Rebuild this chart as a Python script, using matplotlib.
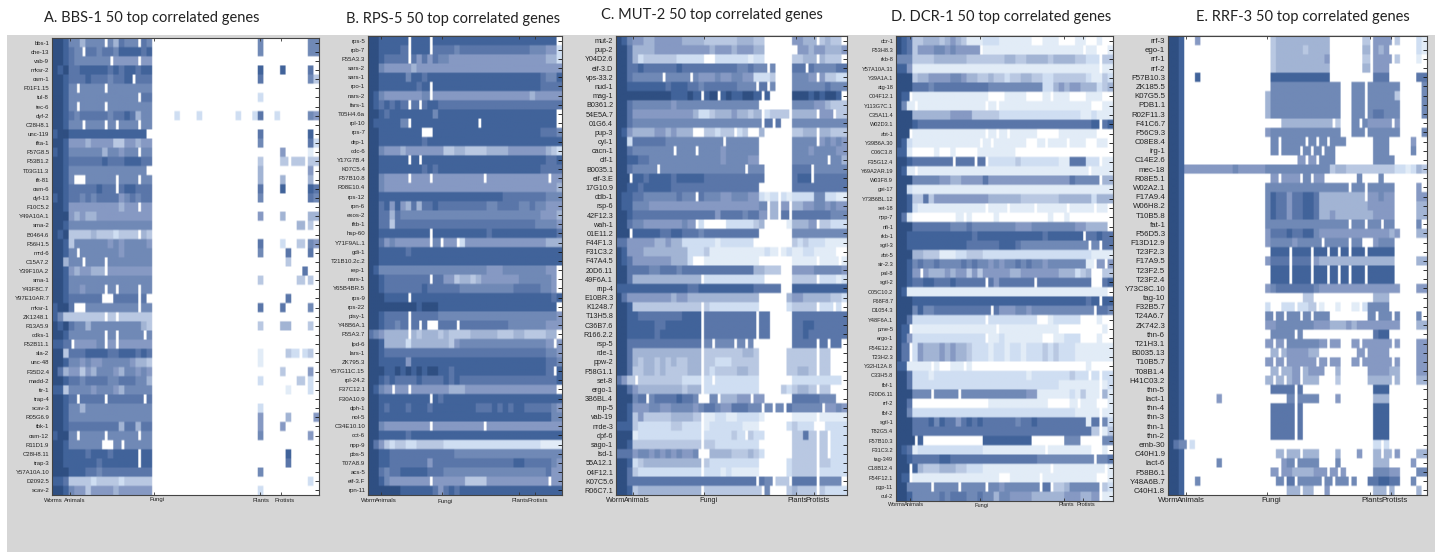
import numpy as np
import matplotlib
matplotlib.use('Agg')
import matplotlib.pyplot as plt
from matplotlib.colors import ListedColormap
from matplotlib.patches import Rectangle

# values are read by eye: each digit is one column of a row, 0 = absent, 9 = strongest
# '|' splits a row in sections so the columns stay lined up
bbs1_genes = ['bbs-1', 'che-13', 'vab-9', 'mksr-2', 'osm-1', 'F01F1.15', 'tul-8', 'tec-6', 'dyf-2', 'C28H8.1',
              'unc-119', 'ifta-1', 'F57G8.5', 'F53B1.2', 'T03G11.3', 'ift-81', 'osm-6', 'dyf-13', 'F10C5.2', 'Y49A10A.1',
              'sma-2', 'B0464.6', 'F56H1.5', 'mrd-6', 'C15A7.2', 'Y39F10A.2', 'sma-1', 'Y43F8C.7', 'Y97E10AR.7', 'mksr-1',
              'ZK1248.1', 'R13A5.9', 'cdks-1', 'F52B11.1', 'sla-2', 'unc-48', 'F35D2.4', 'madd-2', 'itr-1', 'trap-4',
              'scav-3', 'R05G6.9', 'tbk-1', 'osm-12', 'R11D1.9', 'C28H8.11', 'trap-3', 'Y57A10A.10', 'D2092.5', 'scav-2']
bbs1_rows = [
    '998664666064766076||60000000066', '998760776776888878||60000000066', '998766666605555055||',
    '989778888878788788||80008000070', '998777877767780777||70000000063', '998606666066666666||',
    '998666666666666077||20000000000', '998606666066666666||', '998767777767787466|0000200020000002002|70020000065',
    '998660666060666066||', '899888888888888880||70000000080', '998555455553355455||60000000072',
    '898666666466566066||00005000010', '998777777877788877||30003033033', '998666666666666660||40000000050',
    '998600666660666066||40004000040', '998777778770788777||70008000087', '898776767777567677||60000000076',
    '998555555555455055||', '999545445555555555||50004000044', '998666666666666666||00000004030',
    '989333343332333043||', '998366666656566665||70002003065', '998606666666566666||60000700070',
    '994660666066666666||00000300000', '998545544055555555||00000000700', '998666666666666666||30000003030',
    '998665666060666066||', '998777777007777070||00000700000', '899700666666666066||70007000060',
    '863333333030333333||', '989766466666666643||30004400030', '998666666060666606||',
    '887055556050555555||', '993777888877888787||10000320230', '998665655666665443||10000000000',
    '974553546665466565||00003000050', '998776777766777664||20000003020', '883666656665466666||00000100020',
    '998707777077777707||', '998664666666666666||20000000000', '998666666666666666||50000400005',
    '998777777777477477||50005000000', '899606666066666066||60000000050', '998666666006066666||',
    '998888788878888088||00000800000', '998888887888888088||00000700000', '999888776777777777||60000000000',
    '887333323333233333||00000000020', '998655355554555555||20000000000']

rps5_genes = ['rps-5', 'rpb-7', 'F55A3.3', 'sars-2', 'sars-1', 'rpo-1', 'nars-2', 'fars-1', 'T05H4.6a', 'rpl-10',
              'rps-7', 'drp-1', 'cdc-6', 'Y17G7B.4', 'K07C5.4', 'F57B10.8', 'R08E10.4', 'rps-12', 'rpn-6', 'exos-2',
              'iftb-1', 'hsp-60', 'Y71F9AL.1', 'gdi-1', 'T21B10.2c.2', 'rep-1', 'nars-1', 'Y65B4BR.5', 'rps-9', 'rps-22',
              'pisy-1', 'Y48B6A.1', 'F55A3.7', 'lpd-6', 'lars-1', 'ZK795.3', 'Y57G11C.15', 'rpl-24.2', 'F37C12.1', 'F30A10.9',
              'dph-1', 'nol-5', 'C34E10.10', 'cct-6', 'npp-9', 'pbs-5', 'T07A8.9', 'acs-5', 'eif-3.F', 'rpn-11']
rps5_rows = [
    '998888808880888888888888888888888880', '998888708880777767777777777777666552', '998777707575766555555555555555555442',
    '996555554555555555555555555555555555', '998888868878888888888888888888887668', '998888888780888888888888888888887777',
    '986555555560555555555555555555455555', '987878707078877777777777777777777777', '998788888888688888888888888888888880',
    '988888608888888888880888888888888880', '998888888800888888888888888888887776', '998888888878888888888888888888888888',
    '996555455555553344333344445555555432', '998888808088888888888888888888888778', '998888888878788888888888888888887777',
    '996555505550555555555055555555555055', '996555555555555555555555555555555554', '998888888888888888888888877777777666',
    '997858547477877777777766777766766555', '997747666666666666666666666666665554', '997737777777777777777777777777766665',
    '998888888880888888888878888888888887', '997565555550605502555555555555555444', '998888878888888888888888888888888888',
    '998888888888888888888888888888888888', '986666666666666666666655566666666550', '998777777770775534434555555566666650',
    '998777777787777776666666666777776650', '999888808888888888888888888888888878', '999999999899988888888888888888888880',
    '998777707777766666666666666666666665', '998776707070077707777777776666666555', '765444404344434333344444333443333440',
    '998444424444444356666666666666666505', '998777777777777777777777777777777665', '998888858888888888888888888888888776',
    '999889898989988788888888888888888708', '998787777877778787777777777777777778', '986505505555555444555555555555555550',
    '998888888880878888888888888888888888', '998788878887888888887778787887777765', '998888888888888888888888888888888866',
    '996555555550555555555055555555555555', '998888878888888888888888888888888888', '975323322333332222222222222222221111',
    '998877777777777766666666666666666666', '998877777775777777777777777887777765', '997677888887776666666666666666666755',
    '998655555550555555333355555555555055', '999999888888757878888888888888888888']

mut2_genes = ['mut-2', 'pup-2', 'Y04D2.6', 'eif-3.D', 'vps-33.2', 'nud-1', 'mag-1', 'B0361.2', '54E5A.7', '01G6.4',
              'pup-3', 'cyl-1', 'cacn-1', 'clf-1', 'B0035.1', 'eif-3.E', '17G10.9', 'ddb-1', 'rsp-6', '42F12.3',
              'wah-1', '01E11.2', 'F44F1.3', 'F31C3.2', 'F47A4.5', '20D6.11', '49F6A.1', 'rnp-4', 'E10BR.3', 'K1248.7',
              'T13H5.8', 'C36B7.6', 'R166.2.2', 'rsp-5', 'rde-1', 'ppw-2', 'F58G1.1', 'set-8', 'ergo-1', '3B6BL.4',
              'rnp-5', 'vab-19', 'nrde-3', 'dpf-6', 'sago-1', 'lsd-1', '55A12.1', '04F12.1', 'K07C5.6', 'R06C7.1']
mut2_rows = [
    '9865544555554444|33333344433|00000|5544|034330', '9974444555555555|54555455544|00000|0554|554445',
    '9974233333322222|00222222122|00000|3344|043330', '9977877777787777|77777766766|06000|7707|666677',
    '9976666606666065|55655665522|23000|6665|053322', '9988888887888776|77777766607|06000|6666|667666',
    '9999999999888980|89089889980|80000|9998|989980', '9976666666566666|66666666660|00000|6666|554333',
    '9975555555555542|23444544340|23330|4444|055033', '9976666666666666|66666666660|70700|6666|666666',
    '9854444554544400|33233023004|00000|3344|044333', '9927777776666666|66606666660|00000|6666|056565',
    '9976666666066606|66656666660|00000|6665|666655', '9988776666666666|66656666550|00000|6666|660664',
    '9976666066666666|66666660666|00000|7770|666666', '9908878888788888|77777777777|00000|7880|777777',
    '9988788888777777|77777777770|00000|7777|777777', '9887766666676607|66655666552|12021|2222|662211',
    '9886665555555555|55555555556|04050|4455|665655', '9987777777777777|77577776775|04070|7777|777666',
    '9976655555556502|00002222234|00001|4445|033222', '9908888877887776|77777777770|00000|6666|666666',
    '7755555445442222|22122222200|00000|3232|221111', '9855544444444222|31111111111|21012|1122|111100',
    '9875555555444200|11111111110|00000|1111|011101', '9977776677767777|77777777744|33300|5555|666665',
    '9974444444444440|22222222222|00000|3333|022212', '8888888888888778|88888888877|77700|8888|888888',
    '9755555555455444|44444444440|00004|5544|444332', '9983333333333330|32222222220|00002|3333|022020',
    '9988777777778880|77777777707|70000|7777|777777', '9988888778888880|77777777707|70000|7788|777777',
    '9988888788888880|77777777707|70000|7787|777777', '9977777777777770|60666060600|00000|7777|070770',
    '9974444444444440|33333334430|00003|3333|033000', '9974344343433440|33222333330|00003|3333|033000',
    '9973344343333440|32333344330|00003|3443|033000', '7530333333332220|20222222220|00000|2222|222220',
    '9975444444443440|22222222220|00032|3443|033000', '9996706777787760|06044455055|00000|7777|766600',
    '9985556655666656|77655777660|60607|6666|605565', '9983533333444430|11221122221|00000|1111|011111',
    '8883222222332220|12222221110|00002|3222|002222', '9991222222222220|22222320322|00000|3373|030222',
    '9983333333333330|33222222220|00000|3333|030222', '7775665656565560|04444333432|00000|3333|030222',
    '9982344444444440|32222222220|00002|3333|033222', '9973222222222220|22212111110|00002|3333|022222',
    '9977777777777777|77777777707|60330|7777|066660', '9983444444444440|33333333330|60003|4333|032222']

dcr1_genes = ['dcr-1', 'F53H8.3', 'rkb-8', 'Y57A10A.31', 'Y39A1A.1', 'atg-18', 'C04F12.1', 'Y113G7C.1', 'C35A11.4', 'W02D3.1',
              'abt-1', 'Y39B6A.30', 'C06C3.8', 'F35G12.4', 'Y69A2AR.19', 'W03F8.9', 'gei-17', 'Y73B6BL.12', 'set-18', 'npp-7',
              'nfi-1', 'rkb-1', 'sgtl-3', 'abt-5', 'sir-2.3', 'pal-8', 'sgtl-2', 'C05C10.2', 'F68F8.7', 'D1054.3',
              'Y48F6A.1', 'pme-5', 'ergo-1', 'F54E12.2', 'T23H2.3', 'Y32H12A.8', 'C33H5.8', 'fbf-1', 'F20D6.11', 'rrf-2',
              'fbf-2', 'sgtl-1', 'T82G5.4', 'F57B10.3', 'F31C3.2', 'tag-349', 'C18B12.4', 'F54F12.1', 'pgp-11', 'cul-2']
dcr1_rows = [
    '9873344434543111222111111001110001100100', '9873555665655550111111111111111111011001', '6663333444444333333344334444344443322033',
    '8851111111111111111111111111111111111011', '9993445555665443343323344332233333321132', '9997776777777777766666666662245455444234',
    '9801111111111111100011110001011100011100', '9610111111111111010111111111111111110011', '9994444444555533333222222222222222112111',
    '9998777777777777777777777777777777778078', '9901111111111111010101111100001111111000', '9821111111111110101111110010111011100110',
    '8810000100100001111111000000000000000000', '9987777777077707022222322222221177722011', '9810111111111111111111111111111111101111',
    '9996666655445555755555555555555576666044', '9921111111111111111111111111111111111111', '9983373555555555544444433333334444442444',
    '9982111111111111011101111011111011110110', '9710000000010100001000000000100100000000', '9997777777666766666666555666666665544440',
    '9988888888888878888888888887888888077877', '9988888888888777777888766666666666606077', '9994433311122333222222222222222222221111',
    '9986766766667676656566767665666666610505', '9985054445455353555554455555554442340033', '9987788777877777075777777077777777770078',
    '9811111111111111111111111111111111111110', '9998888888888888888888888888888888878088', '9996866777777777707555665666666666660776',
    '9972222222222222022222222200122222000100', '9801111111111111110111111111110000000010', '9852222222222222011211111110011222000100',
    '9702544454544322212212212223232221111111', '9702544454544322212212212223232221111111', '8811110100110100000000000000000000010000',
    '9972221222222222222222221222222232202022', '9972222222222222222222222222221111111012', '9996660666606666666666665511111121311041',
    '9970000000000000011111111111000010111001', '9962222222222222222222222222222221111011', '9997778687757878777777677877777777717062',
    '9997777777777777777777777777777777773013', '9990800000000000888888888000000666000066', '9871222222222222111111111110111111110010',
    '9987777788777777777777777766666666660667', '9908433344433222111111111111011111111101', '9801111111111111111001111101111111111001',
    '9966660666606666066566666607033466666032', '9986666676777667664665555444444555445011']

rrf3_genes = ['rrf-3', 'ego-1', 'rrf-1', 'rrf-2', 'F57B10.3', 'ZK185.5', 'K07G5.5', 'PDB1.1', 'R02F11.3', 'F41C6.7',
              'F56C9.3', 'C08E8.4', 'irg-1', 'C14E2.6', 'mec-18', 'R08E5.1', 'W02A2.1', 'F17A9.4', 'W06H8.2', 'T10B5.8',
              'fat-1', 'F56D5.3', 'F13D12.9', 'T23F2.3', 'F17A9.5', 'T23F2.5', 'T23F2.4', 'Y73C8C.10', 'tag-10', 'F32B5.7',
              'T24A6.7', 'ZK742.3', 'thn-6', 'T21H3.1', 'B0035.13', 'T10B5.7', 'T08B1.4', 'H41C03.2', 'thn-5', 'lact-1',
              'thn-4', 'thn-3', 'thn-1', 'thn-2', 'emb-30', 'C40H1.9', 'lact-6', 'F58B6.1', 'Y48A6B.7', 'C40H1.8']
rrf3_rows = [
    '998|005000000000000|0344444444440000003|0555|0300021', '998||0344444344440000004|0545|0000021',
    '998||0344444444450000003|0555|0300010', '998||0344444444440000004|0555|0000000',
    '998|008000000000000|0888888888880000000|0777|0000077', '998||0666666666666600660|6666|6600006',
    '998||4666666666666600660|6666|6300006', '998||4666666666666600660|6666|6600006',
    '998||4666666666666600660|6776|6600006', '998||0004444444440300606|5555|0500000',
    '998||5666666666666600660|6666|6600006', '998||0606666060606660000|0666|0000500',
    '998||0606660606066000000|0666|0000600', '998||0000005050666000000|0666|6000000',
    '998|555555555655555|6666666666663443333|3333|3221243', '998||0505550605500000060|0060|0000000',
    '998||6666666666666660660|6666|6000050', '998||6877577887444444440|5565|5000055',
    '998||6877577887444444444|5555|5000044', '998||6877577887445444444|4555|5000044',
    '998||6666666666666660660|6606|6000060', '998||5777877886555555555|5555|4500044',
    '998||5666656666066660660|0566|6000000', '998||0888088808808080880|8888|8000000',
    '998||5777077705444444444|4444|4000044', '998||0888088808808080880|8888|8000000',
    '998||0888088808808080880|8888|8000000', '998||5677777776555555555|5555|5500055',
    '998||0000000330000000000|0444|0000000', '998||2002202230100100102|6666|0000000',
    '998||6060660606660000000|6066|0600060', '998||5566666665554445455|5555|5500044',
    '998||0666606000000000000|0788|0000000', '998||5050666666505500505|5555|0500055',
    '998||0404555544000000050|5555|0000055', '998||5050555550505500505|5555|0500055',
    '998||0404450455500400000|5555|4400055', '998||4040450444000300000|4444|0400044',
    '998||0777707000000000000|0888|0000000', '998|000000500000000|0000606666000500000|0444|0000000',
    '998||0777707000000000000|0888|0000000', '998||0777707000000000000|0888|0000000',
    '998||0777707000000000000|0888|0000000', '998||0777707000000000000|0888|0000000',
    '976|020000000000000||0202|0000000', '998||0040440444000400050|0404|0500044',
    '998|000000600000000|0005606666000600000|0444|0000500', '998||0505544445505050000|0666|5500066',
    '998|006000000000000|0060706666060660600|7788|7700600', '998||0000440440050000000|0440|4000040']

group_names = ['Worms', 'Animals', 'Fungi', 'Plants', 'Protists']
group_names_short = ['Worm', 'Animals', 'Fungi', 'Plants', 'Protists']

# white to dark blue, one colour per digit
levels = ['#ffffff', '#e2ecf7', '#cfdef2', '#b9c8e2', '#a2b4d4', '#8699c3',
          '#7089b6', '#5a76a9', '#41639a', '#2f4f82']
cmap = ListedColormap(levels)


def to_array(rows, widths):
    out = []
    for r in rows:
        parts = r.split('|')
        parts += [''] * (len(widths) - len(parts))
        line = ''
        for p, w in zip(parts, widths):
            line += p.ljust(w, '0')[:w]
        out.append([int(c) for c in line])
    return np.array(out)


def thin_gaps(data):
    # one white cell inside a row is really a thin line, so it only takes half of its column
    fine = np.repeat(data, 2, axis=1)
    for i in range(data.shape[0]):
        for j in range(1, data.shape[1] - 1):
            if data[i, j] == 0 and data[i, j - 1] > 0 and data[i, j + 1] > 0:
                fine[i, 2 * j] = data[i, j - 1]
    return fine


W, H = 1439, 552
fig = plt.figure(figsize=(W / 100, H / 100), dpi=100, facecolor='white')
fig.patches.append(Rectangle((7 / W, 0), 1428 / W, 1 - 35 / H, transform=fig.transFigure,
                             facecolor='#d6d6d6', edgecolor='none', zorder=-5))

# title, genes, rows, sections, box in pixels, label size, group ticks, group label x, label y, title xy
panels = [
    ('A. BBS-1 50 top correlated genes', bbs1_genes, bbs1_rows, [18, 19, 11], (52, 38, 319, 495), 4.3,
     [3.2, 18.4, 37.4, 41.2], group_names, [53, 74.5, 157, 261, 285], 500, (152, 18)),
    ('B. RPS-5 50 top correlated genes', rps5_genes, rps5_rows, [36], (368, 36, 562, 495), 4.4,
     [2.5, 13.7, 28, 31], group_names_short, [369, 386, 445, 520, 538], 501, (453, 19)),
    ('C. MUT-2 50 top correlated genes', mut2_genes, mut2_rows, [16, 11, 5, 4, 6], (616, 36, 847, 495), 5.2,
     [3, 16, 32.7, 36], group_names_short, [616, 637, 708, 797, 818], 501, (712, 15)),
    ('D. DCR-1 50 top correlated genes', dcr1_genes, dcr1_rows, [40], (896, 36, 1113, 501), 4.1,
     [2.6, 15.4, 31, 34.4], group_names, [897, 914, 982, 1066, 1086], 505, (1001, 17)),
    ('E. RRF-3 50 top correlated genes', rrf3_genes, rrf3_rows, [3, 15, 19, 4, 7], (1168, 36, 1427, 495), 5.7,
     [3.3, 18.4, 37.4, 41.3], group_names_short, [1168, 1191, 1271, 1372, 1395], 501, (1303, 17)),
]

for title, genes, rows, widths, box, size, ticks, names, name_x, name_y, title_xy in panels:
    x0, y0, x1, y1 = box
    ax = fig.add_axes([x0 / W, 1 - y1 / H, (x1 - x0) / W, (y1 - y0) / H])
    data = to_array(rows, widths)
    nrow, ncol = data.shape
    # repeat the cells so bilinear only softens the edges, like the scaled screenshot
    fine = np.repeat(np.repeat(thin_gaps(data), 5, axis=0), 2, axis=1)
    ax.imshow(fine, cmap=cmap, vmin=0, vmax=9, aspect='auto', interpolation='bilinear',
              interpolation_stage='rgba', extent=(-0.5, ncol - 0.5, nrow - 0.5, -0.5))
    ax.set_yticks(range(nrow))
    ax.set_yticklabels(genes, fontsize=size, family='Liberation Sans', color='#222222')
    ax.set_xticks(np.array(ticks) - 0.5)
    ax.set_xticklabels([])
    ax.tick_params(axis='y', direction='in', right=True, left=False, length=3, width=0.6, pad=2, color='#111111')
    ax.tick_params(axis='x', direction='in', top=True, length=2.5, width=0.6, color='#333333')
    for s in ax.spines.values():
        s.set_color('#444444')
        s.set_linewidth(0.8)
    for name, nx in zip(names, name_x):
        fig.text(nx / W, 1 - name_y / H, name, fontsize=size, family='Liberation Sans', color='#222222',
                 ha='center', va='center')
    fig.text(title_xy[0] / W, 1 - title_xy[1] / H, title, fontsize=10.5, family='Lato', color='#222222',
             ha='center', va='center')

fig.savefig('out.png', dpi=100)
